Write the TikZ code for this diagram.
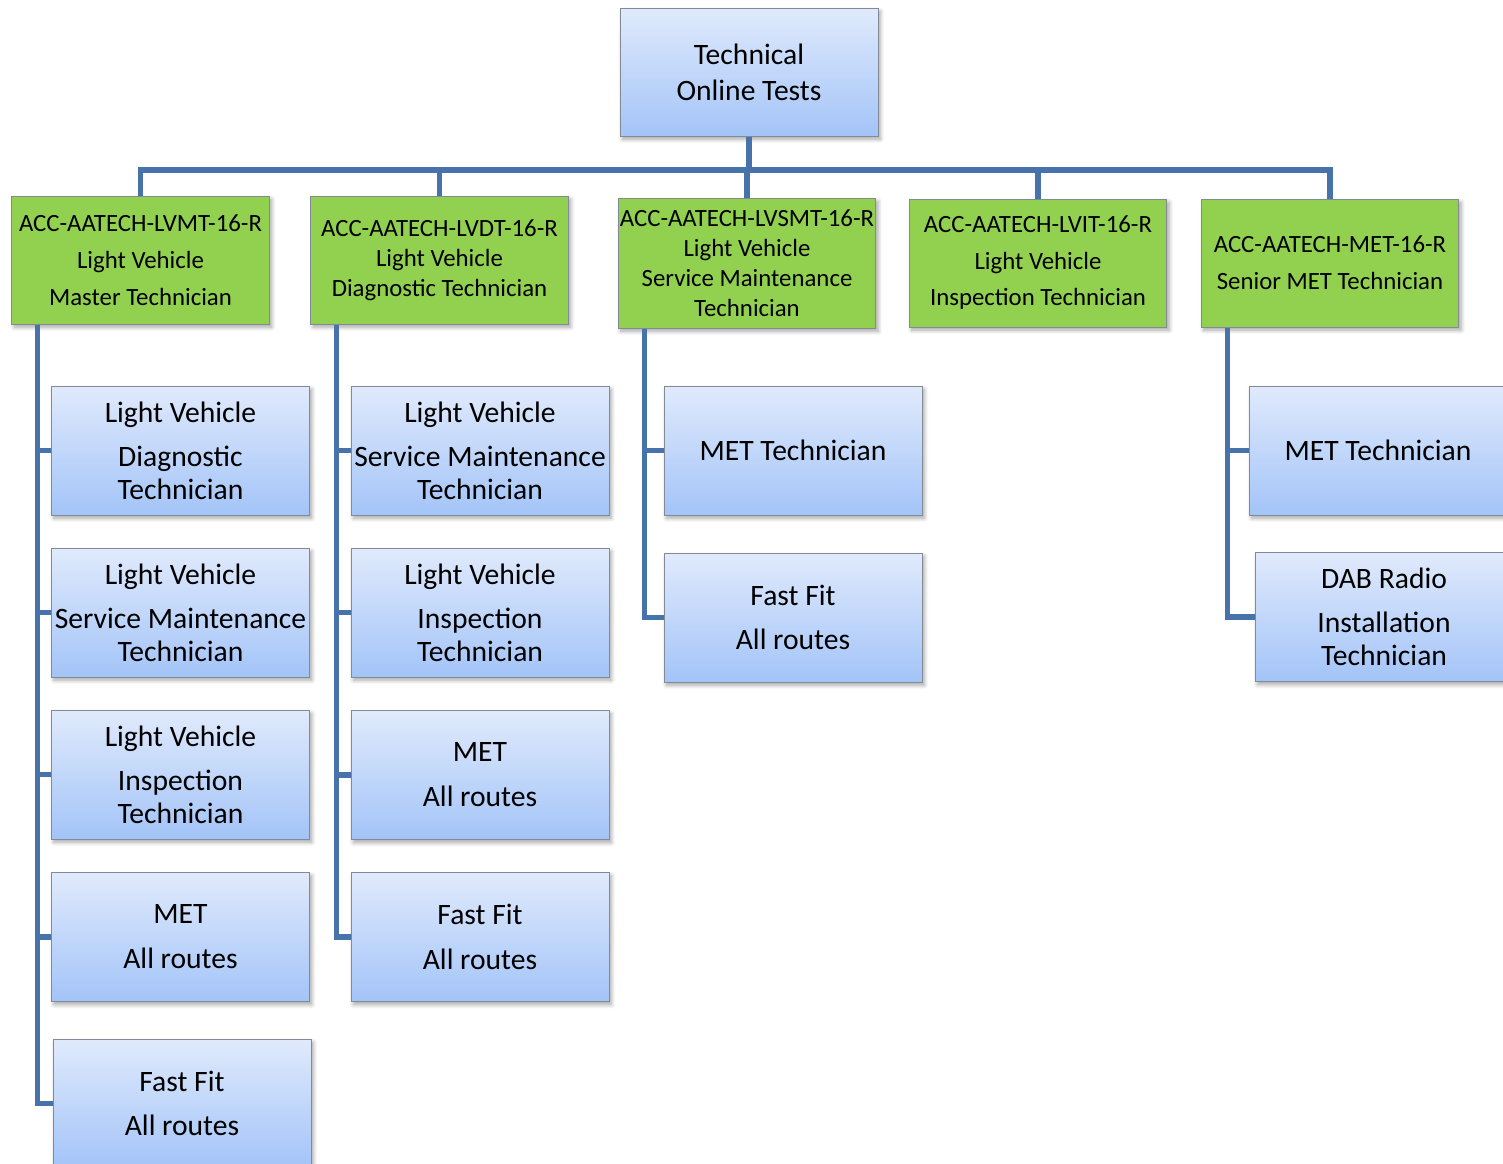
\documentclass[tikz,border=0pt]{standalone}
\usepackage{fontspec}
\setmainfont{Carlito}
\usetikzlibrary{shadows.blur}
\definecolor{linkblue}{RGB}{72,115,170}
\definecolor{boxtop}{RGB}{224,234,252}
\definecolor{boxbot}{RGB}{163,196,248}
\definecolor{boxgreen}{RGB}{146,208,80}
\definecolor{boxedge}{RGB}{130,138,148}
\begin{document}
\begin{tikzpicture}[x=0.5pt,y=-0.5pt,
  shad/.style={blur shadow={shadow blur steps=6, shadow xshift=1.2pt, shadow yshift=-1.6pt, shadow opacity=35, shadow blur radius=2pt}},
  bluebox/.style={rectangle, draw=boxedge, line width=0.5pt, top color=boxtop, bottom color=boxbot, shad,
    minimum width=129pt, minimum height=64.5pt, inner sep=0pt, align=center,
    font=\fontsize{14.8}{16.5}\selectfont},
  topbox/.style={bluebox, minimum height=64pt, font=\fontsize{14.8}{18}\selectfont},
  greenbox/.style={rectangle, draw=boxedge, line width=0.5pt, fill=boxgreen, shad,
    minimum width=128.8pt, minimum height=64pt, inner sep=0pt, align=center,
    font=\fontsize{12.4}{15}\selectfont},
  conn/.style={draw=linkblue, line width=2.6pt, line join=miter}]
\useasboundingbox (0,0) rectangle (1503,1163);
\clip (0,0) rectangle (1503,1163);
\coordinate (bus) at (749,170);

\node[topbox] (top) at (749,72) {Technical\\Online Tests};
\node[greenbox] (g1) at (140.5,260) {ACC-AATECH-LVMT-16-R\\[3.5pt]Light Vehicle\\[3.5pt]Master Technician};
\node[greenbox] (g2) at (439.5,260) {ACC-AATECH-LVDT-16-R\\Light Vehicle\\Diagnostic Technician};
\node[greenbox, minimum height=65pt] (g3) at (747,263) {ACC-AATECH-LVSMT-16-R\\Light Vehicle\\Service Maintenance\\Technician};
\node[greenbox] (g4) at (1038,263) {ACC-AATECH-LVIT-16-R\\[3.3pt]Light Vehicle\\[3.3pt]Inspection Technician};
\node[greenbox] (g5) at (1330,263) {ACC-AATECH-MET-16-R\\[3.5pt]Senior MET Technician};

\node[bluebox] (c11) at (180.5,450.5) {Light Vehicle\\[5.5pt]Diagnostic\\Technician};
\node[bluebox] (c12) at (180.5,612.5) {Light Vehicle\\[5.5pt]Service Maintenance\\Technician};
\node[bluebox] (c13) at (180.5,774.5) {Light Vehicle\\[5.5pt]Inspection\\Technician};
\node[bluebox] (c14) at (180.5,937) {MET\\[6pt]All routes};
\node[bluebox] (c15) at (182,1103.5) {Fast Fit\\[5.5pt]All routes};

\node[bluebox] (c21) at (480,450.5) {Light Vehicle\\[5.5pt]Service Maintenance\\Technician};
\node[bluebox] (c22) at (480,612.5) {Light Vehicle\\[5.5pt]Inspection\\Technician};
\node[bluebox] (c23) at (480,775) {MET\\[6pt]All routes};
\node[bluebox] (c24) at (480,937) {Fast Fit\\[6pt]All routes};

\node[bluebox] (c31) at (793,450.5) {MET Technician};
\node[bluebox] (c32) at (793,617.5) {Fast Fit\\[5.5pt]All routes};

\node[bluebox] (c51) at (1378,450.5) {MET Technician};
\node[bluebox] (c52) at (1384,617) {DAB Radio\\[5.5pt]Installation\\Technician};

% bus from top box to green boxes
\foreach \g in {g1,g2,g3,g4,g5}{
  \draw[conn] (top.south) -- (top.south |- bus) -| (\g.north);
}
% spines and branches
\foreach \c in {c11,c12,c13,c14,c15}{
  \draw[conn] ([xshift=13pt]g1.south west) |- (\c.west);
}
\foreach \c in {c21,c22,c23,c24}{
  \draw[conn] ([xshift=13pt]g2.south west) |- (\c.west);
}
\foreach \c in {c31,c32}{
  \draw[conn] ([xshift=13.5pt]g3.south west) |- (\c.west);
}
\foreach \c in {c51,c52}{
  \draw[conn] ([xshift=13.5pt]g5.south west) |- (\c.west);
}
\end{tikzpicture}
\end{document}
